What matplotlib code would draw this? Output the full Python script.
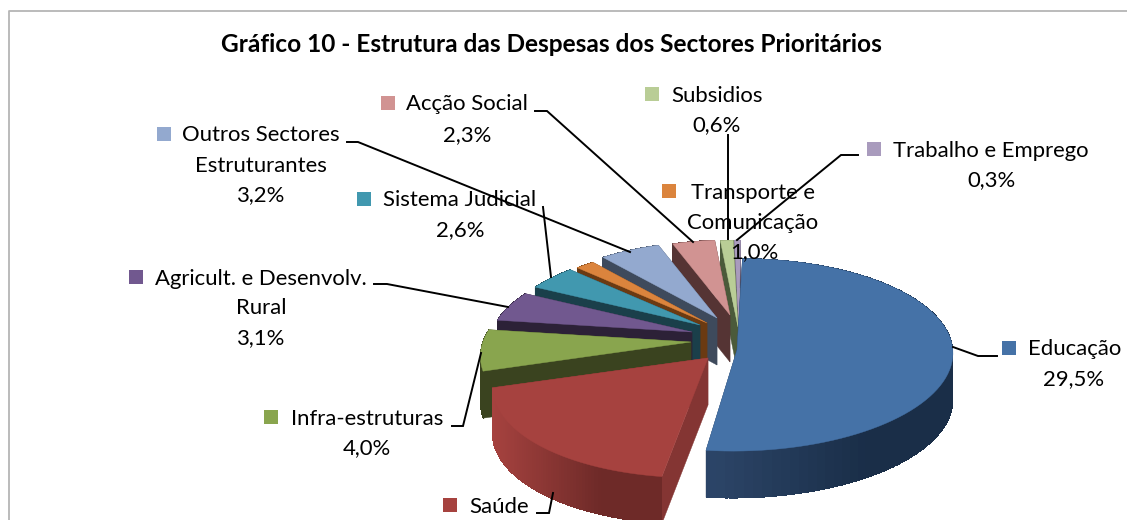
#!/usr/bin/env python3
"""Exploded 3D-look pie: despesas dos sectores prioritarios."""
import numpy as np
import matplotlib
matplotlib.use("Agg")
import matplotlib.pyplot as plt
from matplotlib.colors import to_rgb
from matplotlib.patches import Polygon, Rectangle

# data, clockwise from the top
sectors = ["Educação", "Saúde", "Infra-estruturas", "Agricult. e Desenvolv. Rural",
           "Sistema Judicial", "Transporte e Comunicação",
           "Outros Sectores Estruturantes", "Acção Social", "Subsidios", "Trabalho e Emprego"]
values = [29.5, 10.4, 4.0, 3.1, 2.6, 1.0, 3.2, 2.3, 0.6, 0.3]  # Saúde label is cut off, estimated
top_colors = ["#4572A7", "#A6423F", "#89A54E", "#71588F", "#4198AF",
              "#DB843D", "#93A9CF", "#D19392", "#B9CD96", "#A99BBD"]
wall_dark = ["#1A2E48", "#6E2A28", "#3A431F", "#2C2137", "#1A3F4A",
             "#6B3A12", "#3E4A5C", "#553434", "#4B5A3A", "#4A4357"]
wall_light = ["#2C4568", "#A6423F", "#3A431F", "#2C2137", "#1A3F4A",
              "#6B3A12", "#3E4A5C", "#553434", "#4B5A3A", "#4A4357"]
radial_wall = ["#1F3350", "#843533", "#3A431F", "#2C2137", "#1A3F4A",
               "#6B3A12", "#3E4A5C", "#553434", "#4B5A3A", "#4A4357"]

# pie layout, in pixels
CX, CY = 735, 350
RX, RY = 218, 97
DEPTH = 47
START = 89.5
slice_dx = [2, -27, -44, -43, -35, -28, -18, -5, 3, 4]
slice_dy = [0, 8, -8, -18, -25, -27, -32, -35, -23, -23]
slice_scale = [0.99, 0.95, 0.955, 0.92, 0.91, 0.91, 0.91, 0.89, 1.03, 1.03]
slice_persp = [0.05, 0.23, 0.15, 0.15, 0.15, 0.15, 0.15, 0.15, 0.15, 0.15]
# perspective leans the near and far slices sideways a little
slice_shear = [0.04, 0.12, 0, 0, 0, 0, 0, 0, 0, 0]

FONT = ["Lato", "DejaVu Sans"]
FS = 15.9
FS_TITLE = 17.6

fig = plt.figure(figsize=(11.27, 5.2), dpi=100)
ax = fig.add_axes([0, 0, 1, 1])
ax.set_xlim(0, 1127)
ax.set_ylim(520, 0)
ax.set_axis_off()

# chart frame, only the left and top edges fall inside the crop
ax.plot([9, 9, 1127], [520, 11, 11], color="#B5B5B5", lw=1.3, zorder=1)


def rim(i, t_deg):
    t = np.radians(t_deg)
    f = slice_scale[i] / (1 + slice_persp[i] * np.sin(t))
    up = f * RY * np.sin(t)
    return (CX + slice_dx[i] + f * RX * np.cos(t) + slice_shear[i] * up,
            CY + slice_dy[i] - up)


def mix(c1, c2, w):
    a, b = np.array(to_rgb(c1)), np.array(to_rgb(c2))
    return tuple(a + (b - a) * w)


def draw_slice(i, t0, t1, z):
    apex = np.array([CX + slice_dx[i], CY + slice_dy[i]])
    ts = np.linspace(t0, t1, 80)
    pts = np.array([rim(i, t) for t in ts]).reshape(-1, 2)
    # radial walls
    for edge in (pts[0], pts[-1]):
        quad = [apex, edge, edge + [0, DEPTH], apex + [0, DEPTH]]
        ax.add_patch(Polygon(quad, closed=True, fc=radial_wall[i], ec=radial_wall[i], lw=0.3, zorder=z))
    # outer wall, shaded strip by strip, strips overlap so no seams show
    xmin, xmax = pts[:, 0].min(), pts[:, 0].max()
    for j in range(len(pts) - 1):
        a, b = pts[j], pts[min(j + 2, len(pts) - 1)]
        w = ((a[0] + b[0]) / 2 - xmin) / max(xmax - xmin, 1)
        c = mix(wall_light[i], wall_dark[i], min(1, w * 1.6))
        ax.add_patch(Polygon([a, b, b + [0, DEPTH], a + [0, DEPTH]], closed=True,
                             fc=c, ec="none", antialiased=False, zorder=z))
    # top face
    ax.add_patch(Polygon(np.vstack([apex, pts]), closed=True, fc=top_colors[i],
                         ec=top_colors[i], lw=0.3, zorder=z + 0.5))


sweeps = np.array(values) / sum(values) * 360
ends = START - np.cumsum(sweeps)
starts = ends + sweeps
# painter order: back slices first, the big front ones last
draw_order = [9, 8, 7, 6, 5, 4, 3, 2, 1, 0]
for n, i in enumerate(draw_order):
    draw_slice(i, starts[i], ends[i], 3 + n)

# leader lines
leaders = [
    [(953, 347), (978, 356), (997, 356)],
    [(537, 513), (549, 513), (553, 493)],
    [(452, 426), (463, 426), (481, 353)],
    [(374, 284), (387, 284), (508, 307)],
    [(543, 207), (551, 277)],
    [(347, 142), (358, 142), (630, 252)],
    [(535, 111), (547, 111), (693, 242)],
    [(728, 135), (728, 239)],
    [(858, 155), (841, 155), (737, 240)],
]
for line in leaders:
    xs, ys = zip(*line)
    ax.plot(xs, ys, color="black", lw=1.4, zorder=20, solid_joinstyle="miter")

# labels: sector index, key position, text lines
labels = [
    (0, (1009, 348), [("Educação", 1075, 349), ("29,5%", 1074, 379)]),
    (1, (450, 505), [("Saúde", 499, 507)]),
    (2, (271, 417), [("Infra-estruturas", 367, 419), ("4,0%", 367, 448)]),
    (3, (136, 277), [("Agricult. e Desenvolv.", 261, 279), ("Rural", 261, 308), ("3,1%", 261, 338)]),
    (4, (364, 199), [("Sistema Judicial", 460, 200), ("2,6%", 460, 230)]),
    (5, (669, 191), [("Transporte e", 753, 193), ("Comunicação", 753, 223), ("1,0%", 754, 252)]),
    (6, (164, 134), [("Outros Sectores", 261, 135), ("Estruturantes", 261, 166), ("3,2%", 261, 195)]),
    (7, (388, 103), [("Acção Social", 467, 104), ("2,3%", 467, 135)]),
    (8, (652, 94), [("Subsidios", 717, 96), ("0,6%", 717, 125)]),
    (9, (874, 149), [("Trabalho e Emprego", 991, 151), ("0,3%", 991, 180)]),
]
for i, (kx, ky), lines in labels:
    ax.add_patch(Rectangle((kx - 7, ky - 7), 14, 14, fc=top_colors[i], ec="none", zorder=21))
    for txt, x, y in lines:
        ax.text(x, y, txt, ha="center", va="center", fontsize=FS, family=FONT, color="black", zorder=22)

ax.text(551, 45, "Gráfico 10 - Estrutura das Despesas dos Sectores Prioritários",
        ha="center", va="center", fontsize=FS_TITLE, family=FONT, fontweight="bold", color="black", zorder=22)

fig.savefig("out.png", dpi=100)
